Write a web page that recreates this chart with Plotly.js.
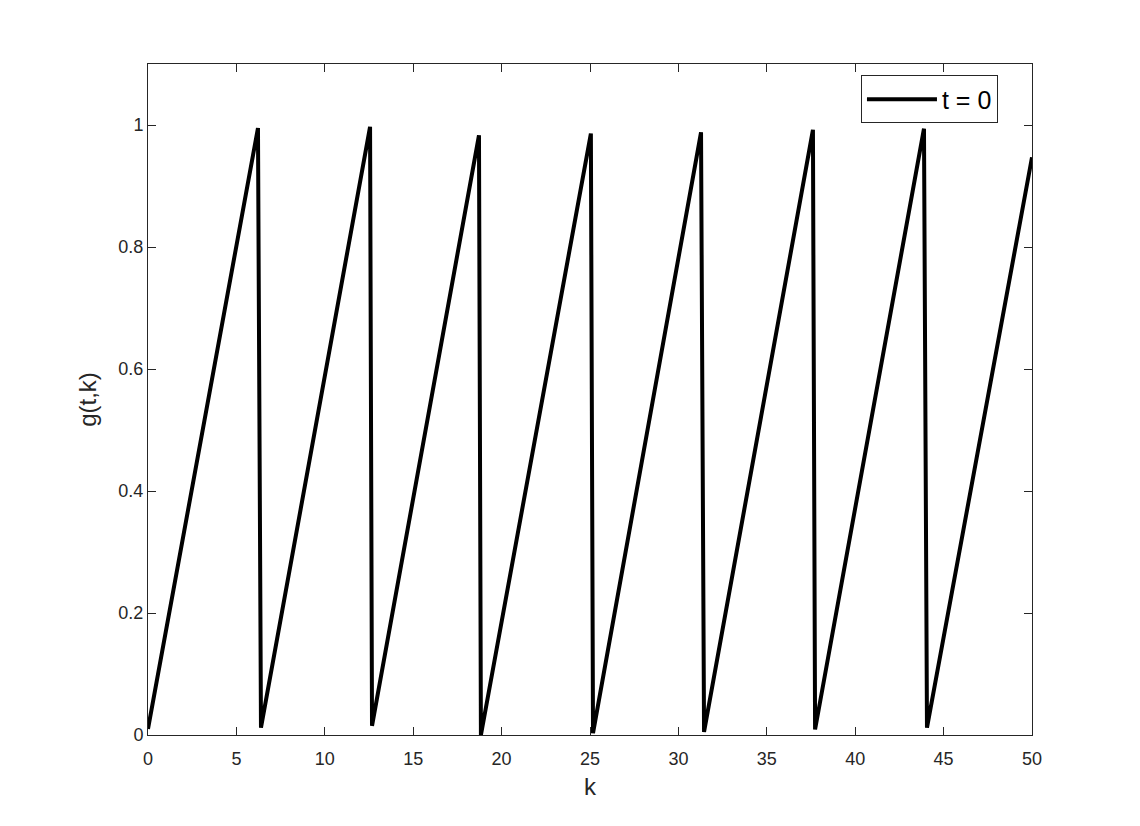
<!DOCTYPE html>
<html><head><meta charset="utf-8">
<script src="https://cdn.plot.ly/plotly-3.0.1.min.js"></script>
<style>body{margin:0;background:#fff;} #plot{width:1140px;height:826px;}</style>
</head><body>
<div id="plot"></div>
<script>
// sawtooth vertices
const kVals = [0, 6.22, 6.39, 12.56, 12.67, 18.72, 18.83, 25.05, 25.17, 31.28, 31.45, 37.61, 37.73, 43.89, 44.06, 50];
const gVals = [0.01, 0.995, 0.012, 0.997, 0.015, 0.983, 0.0, 0.986, 0.003, 0.988, 0.005, 0.992, 0.009, 0.994, 0.012, 0.947];
const xTicks = [0, 5, 10, 15, 20, 25, 30, 35, 40, 45, 50];
const yTicks = [0, 0.2, 0.4, 0.6, 0.8, 1];
const yTickText = ['0', '0.2', '0.4', '0.6', '0.8', '1'];

const font = 'Liberation Sans, Arial, sans-serif';
const axisCommon = {
  showgrid: false, zeroline: false, showline: true, linecolor: '#262626', linewidth: 1,
  mirror: 'ticks', ticks: 'inside', ticklen: 8, tickcolor: '#262626',
  tickfont: {family: font, size: 18, color: '#262626'}
};

Plotly.newPlot('plot', [{
  x: kVals, y: gVals, type: 'scatter', mode: 'lines', name: 't = 0',
  line: {color: '#000', width: 4}
}], {
  width: 1140, height: 826,
  margin: {l: 148, r: 108, t: 64, b: 91},
  paper_bgcolor: '#fff', plot_bgcolor: '#fff',
  showlegend: true,
  legend: {x: 0.9615, y: 0.983, xanchor: 'right', yanchor: 'top', bordercolor: '#262626', borderwidth: 1,
    bgcolor: '#fff', itemwidth: 70, font: {family: font, size: 25, color: '#000'}},
  xaxis: Object.assign({}, axisCommon, {
    range: [0, 50], tickvals: xTicks, ticklabelstandoff: 7,
    title: {text: 'k', font: {family: font, size: 24, color: '#262626'}, standoff: 10}
  }),
  yaxis: Object.assign({}, axisCommon, {
    range: [0, 1.1], tickvals: yTicks, ticklabelstandoff: 0,
    ticktext: yTickText,
    title: {text: 'g(t,k)', font: {family: font, size: 24, color: '#262626'}, standoff: 14}
  })
}, {displayModeBar: false});
</script>
</body></html>
